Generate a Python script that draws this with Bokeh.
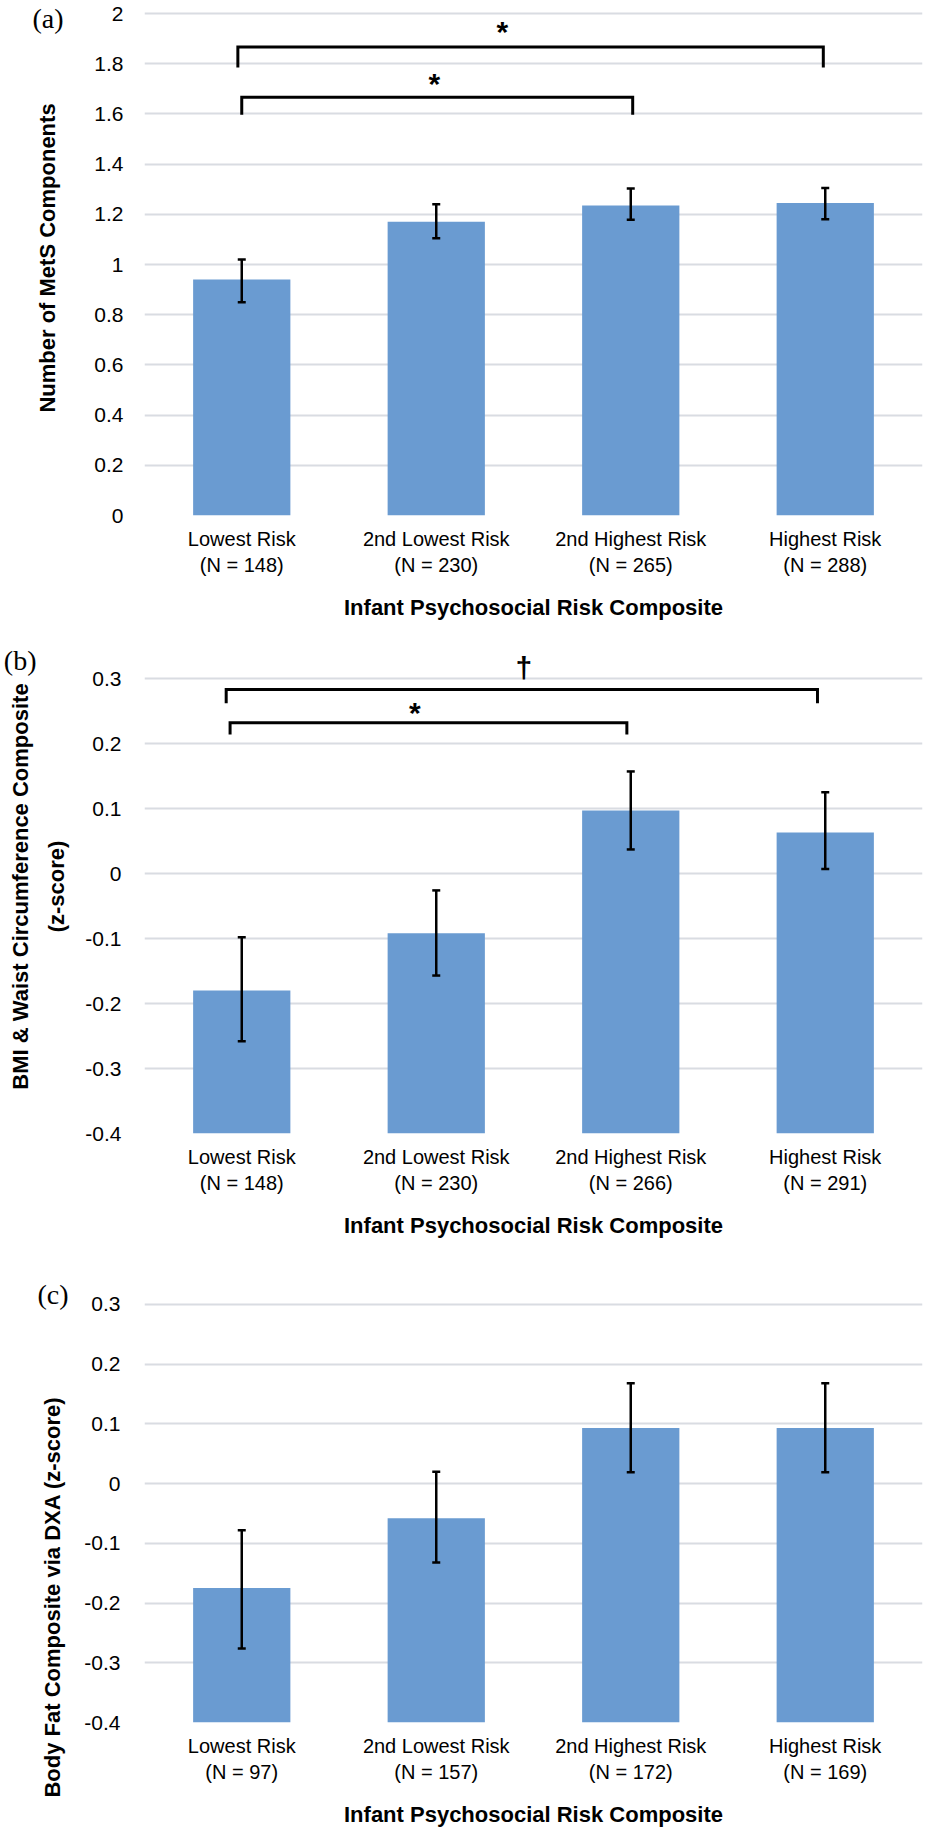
from bokeh.plotting import figure
from bokeh.models import (ColumnDataSource, Whisker, TeeHead, FixedTicker, Range1d,
                          LinearAxis, NumeralTickFormatter)
from bokeh.layouts import column
from bokeh.embed import file_html
from bokeh.resources import INLINE
from bokeh.core.properties import value

# ---------------- data ----------------
categories = ["Lowest Risk", "2nd Lowest Risk", "2nd Highest Risk", "Highest Risk"]

# (a) Number of MetS components
a_n = [148, 230, 265, 288]
a_mean = [0.94, 1.17, 1.235, 1.245]
a_lower = [0.85, 1.105, 1.178, 1.18]
a_upper = [1.02, 1.24, 1.303, 1.305]
a_ticks = [0, 0.2, 0.4, 0.6, 0.8, 1, 1.2, 1.4, 1.6, 1.8, 2]

# (b) BMI & waist circumference composite
b_n = [148, 230, 266, 291]
b_mean = [-0.18, -0.092, 0.097, 0.063]
b_lower = [-0.258, -0.157, 0.037, 0.007]
b_upper = [-0.098, -0.026, 0.157, 0.125]
b_ticks = [-0.4, -0.3, -0.2, -0.1, 0, 0.1, 0.2, 0.3]

# (c) Body fat composite via DXA
c_n = [97, 157, 172, 169]
c_mean = [-0.175, -0.058, 0.093, 0.093]
c_lower = [-0.276, -0.132, 0.019, 0.019]
c_upper = [-0.078, 0.02, 0.168, 0.168]
c_ticks = [-0.4, -0.3, -0.2, -0.1, 0, 0.1, 0.2, 0.3]

# significance brackets (category-index units for x, data units for y)
a_sig = ["*", "*"]
a_br_x0 = [0.48, 0.5]
a_br_x1 = [3.49, 2.51]
a_br_top = [1.867, 1.667]
a_br_bottom = [1.785, 1.597]
a_sig_x = [1.84, 1.49]
a_sig_y = [1.93, 1.72]

b_sig = ["\u2020", "*"]
b_br_x0 = [0.42, 0.44]
b_br_x1 = [3.46, 2.48]
b_br_top = [0.283, 0.232]
b_br_bottom = [0.262, 0.214]
b_sig_x = [1.95, 1.39]
b_sig_y = [0.317, 0.248]

BAR = "#6A9BD1"
GRID = "#D9DCE2"
FONT = "Liberation Sans"
XTITLE = "Infant Psychosocial Risk Composite"


def panel(ticks, ylo, yhi, mean, lower, upper, n, ytitle, height,
          bl, br, bt, bb, ystand, ytstand, letter, letter_y, title_lh=1.2,
          title_at=None):
    p = figure(width=929, height=height, x_range=Range1d(0, 4), y_range=Range1d(ylo, yhi),
               output_backend="svg", toolbar_location=None,
               min_border_left=bl, min_border_right=br, min_border_top=bt,
               min_border_bottom=bb)
    p.outline_line_color = None
    p.background_fill_color = "white"
    p.border_fill_color = "white"
    xs = [i + 0.5 for i in range(len(categories))]
    src = ColumnDataSource(dict(x=xs, top=mean, lower=lower, upper=upper))
    p.vbar(x="x", top="top", bottom=ylo, width=0.5, source=src,
           fill_color=BAR, line_color=None)
    p.add_layout(Whisker(source=src, base="x", upper="upper", lower="lower",
                         level="overlay", line_color="black", line_width=2.5,
                         upper_head=TeeHead(size=8, line_width=2.5, line_color="black"),
                         lower_head=TeeHead(size=8, line_width=2.5, line_color="black")))

    p.xgrid.visible = False
    p.ygrid.ticker = FixedTicker(ticks=ticks)
    p.ygrid.grid_line_color = GRID
    p.ygrid.grid_line_width = 2

    xa = p.xaxis[0]
    xa.ticker = FixedTicker(ticks=xs)
    xa.major_label_overrides = {x: f"{c}\n(N = {k})" for x, c, k in zip(xs, categories, n)}
    xa.axis_line_color = None
    xa.major_tick_line_color = None
    xa.minor_tick_line_color = None
    xa.major_tick_out = 0
    xa.minor_tick_out = 0
    xa.major_label_text_font = FONT
    xa.major_label_text_font_size = "20px"
    xa.major_label_text_color = "black"
    xa.major_label_standoff = 12
    xa.axis_label = XTITLE
    xa.axis_label_text_font = FONT
    xa.axis_label_text_font_size = "22px"
    xa.axis_label_text_font_style = "bold"
    xa.axis_label_text_color = "black"
    xa.axis_label_standoff = 16

    ya = p.yaxis[0]
    ya.ticker = FixedTicker(ticks=ticks)
    ya.formatter = NumeralTickFormatter(format="0.[0]")
    ya.axis_line_color = None
    ya.major_tick_line_color = None
    ya.minor_tick_line_color = None
    ya.major_tick_out = 0
    ya.minor_tick_out = 0
    ya.major_label_text_font = FONT
    ya.major_label_text_font_size = "21px"
    ya.major_label_text_color = "black"
    ya.major_label_standoff = ystand

    if title_at is None:
        ya.axis_label = ytitle
        ya.axis_label_text_font = FONT
        ya.axis_label_text_font_size = "22px"
        ya.axis_label_text_font_style = "bold"
        ya.axis_label_text_color = "black"
        ya.axis_label_text_line_height = title_lh
        ya.axis_label_standoff = ytstand
    else:
        # axis title placed off-centre, as in the original
        ta = LinearAxis(ticker=FixedTicker(ticks=[title_at]),
                        major_label_overrides={title_at: ytitle},
                        major_label_orientation="parallel",
                        axis_line_color=None, major_tick_line_color=None,
                        minor_tick_line_color=None, major_tick_out=0, minor_tick_out=0,
                        major_label_standoff=ytstand,
                        major_label_text_font=FONT,
                        major_label_text_font_size="22px",
                        major_label_text_font_style="bold",
                        major_label_text_color="black")
        p.add_layout(ta, "left")

    # panel letter, carried by an outer left axis whose single label overlaps inward
    la = LinearAxis(ticker=FixedTicker(ticks=[letter_y]),
                    major_label_overrides={letter_y: letter},
                    axis_line_color=None, major_tick_line_color=None,
                    minor_tick_line_color=None, major_tick_out=0, minor_tick_out=0,
                    major_label_standoff=-31,
                    major_label_text_font="Liberation Serif",
                    major_label_text_font_size="28px",
                    major_label_text_color="black")
    p.add_layout(la, "left")
    return p


def brackets(p, x0, x1, top, bottom, sig, sx, sy):
    p.multi_line(xs=[[a, a, b, b] for a, b in zip(x0, x1)],
                 ys=[[lo, hi, hi, lo] for hi, lo in zip(top, bottom)],
                 line_color="black", line_width=3, line_join="miter")
    p.text(x=sx, y=sy, text=sig, text_font=value(FONT), text_font_size="30px",
           text_font_style="bold", text_align="center", text_baseline="middle",
           text_color="black")


pa = panel(a_ticks, 0, 2.052, a_mean, a_lower, a_upper, a_n,
           "Number of MetS Components", 632, 111, 7, 0, 117, 21, 31, "(a)", 2.0)
brackets(pa, a_br_x0, a_br_x1, a_br_top, a_br_bottom, a_sig, a_sig_x, a_sig_y)

pb = panel(b_ticks, -0.4, 0.36, b_mean, b_lower, b_upper, b_n,
           "BMI & Waist Circumference Composite\n(z-score)", 630, 134, 7, 7, 129, 23, 13,
           "(b)", 0.328, title_lh=1.45)
brackets(pb, b_br_x0, b_br_x1, b_br_top, b_br_bottom, b_sig, b_sig_x, b_sig_y)

pc = panel(c_ticks, -0.4, 0.33, c_mean, c_lower, c_upper, c_n,
           "Body Fat Composite via DXA (z-score)", 567, 106, 5, 24, 103, 24, 16,
           "(c)", 0.317, title_at=-0.19)

layout = column(pa, pb, pc)
open("out.html", "w").write(file_html(layout, INLINE))
